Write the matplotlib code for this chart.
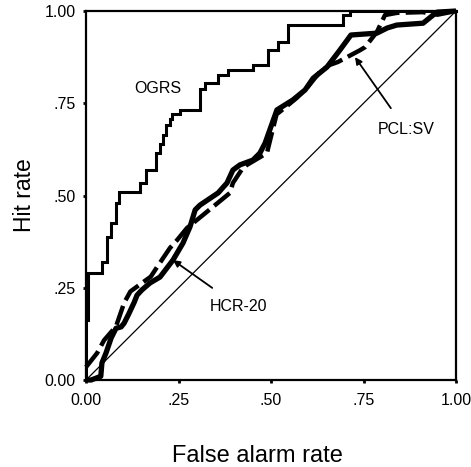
import matplotlib
matplotlib.use("Agg")
import matplotlib.pyplot as plt

# ---- data ----
ogrs_x = [0, 0, 0.005, 0.005, 0.043, 0.043, 0.057, 0.057, 0.068, 0.068, 0.081, 0.081,
          0.089, 0.089, 0.146, 0.146, 0.162, 0.162, 0.189, 0.189, 0.200, 0.200, 0.208, 0.208,
          0.216, 0.216, 0.227, 0.227, 0.232, 0.232, 0.254, 0.254, 0.308, 0.308, 0.322, 0.322,
          0.357, 0.357, 0.384, 0.384, 0.451, 0.451, 0.492, 0.492, 0.519, 0.519, 0.546, 0.546,
          0.695, 0.695, 0.714, 0.714, 1.0]
ogrs_y = [0, 0.163, 0.163, 0.290, 0.290, 0.320, 0.320, 0.388, 0.388, 0.425, 0.425, 0.480,
          0.480, 0.510, 0.510, 0.534, 0.534, 0.569, 0.569, 0.615, 0.615, 0.640, 0.640, 0.665,
          0.665, 0.690, 0.690, 0.708, 0.708, 0.720, 0.720, 0.732, 0.732, 0.789, 0.789, 0.805,
          0.805, 0.827, 0.827, 0.840, 0.840, 0.854, 0.854, 0.894, 0.894, 0.916, 0.916, 0.962,
          0.962, 0.989, 0.989, 1.0, 1.0]

hcr_x = [0, 0.014, 0.04, 0.043, 0.054, 0.068, 0.081, 0.095, 0.103, 0.116, 0.13, 0.138,
         0.151, 0.173, 0.2, 0.235, 0.262, 0.281, 0.295, 0.308, 0.357, 0.381, 0.397, 0.416,
         0.451, 0.47, 0.484, 0.516, 0.559, 0.592, 0.614, 0.651, 0.686, 0.716, 0.786, 0.814,
         0.84, 0.911, 0.938, 0.949, 1.0]
hcr_y = [0, 0.0, 0.01, 0.046, 0.073, 0.114, 0.14, 0.144, 0.154, 0.18, 0.21, 0.23,
         0.244, 0.263, 0.279, 0.325, 0.371, 0.415, 0.461, 0.474, 0.507, 0.534, 0.569, 0.583,
         0.596, 0.615, 0.642, 0.732, 0.759, 0.786, 0.818, 0.848, 0.894, 0.935, 0.94, 0.954,
         0.962, 0.967, 0.989, 0.997, 1.0]

pcl_x = [0, 0.03, 0.049, 0.068, 0.081, 0.103, 0.12, 0.15, 0.175, 0.192, 0.227, 0.246,
         0.273, 0.316, 0.389, 0.397, 0.424, 0.435, 0.489, 0.50, 0.515, 0.54, 0.57, 0.60,
         0.632, 0.659, 0.681, 0.741, 0.754, 0.786, 0.808, 0.84, 0.91, 0.95, 1.0]
pcl_y = [0.035, 0.073, 0.108, 0.13, 0.145, 0.209, 0.24, 0.262, 0.28, 0.306, 0.358, 0.379,
         0.412, 0.447, 0.507, 0.534, 0.575, 0.583, 0.615, 0.66, 0.72, 0.74, 0.765, 0.795,
         0.835, 0.854, 0.862, 0.894, 0.902, 0.943, 0.989, 0.995, 0.997, 0.99, 1.0]

ticks = [0, 0.25, 0.5, 0.75, 1.0]
tick_labels = ["0.00", ".25", ".50", ".75", "1.00"]

plt.rcParams['font.family'] = ['Liberation Sans', 'DejaVu Sans']

fig = plt.figure(figsize=(4.71, 4.67), dpi=100)
ax = fig.add_axes([0.1826, 0.1863, 0.7856, 0.7901])

ax.plot([0, 1], [0, 1], color='black', lw=0.9)
ax.plot(ogrs_x, ogrs_y, color='black', lw=2.2, solid_joinstyle='miter', clip_on=False)
ax.plot(hcr_x, hcr_y, color='black', lw=3.8, solid_capstyle='butt', clip_on=False)
ax.plot(pcl_x, pcl_y, color='black', lw=3.2, dashes=(4.5, 1.4), clip_on=False)

ax.set_xlim(0, 1)
ax.set_ylim(0, 1)
ax.set_xticks(ticks)
ax.set_xticklabels(tick_labels)
ax.set_yticks(ticks)
ax.set_yticklabels(tick_labels)
ax.tick_params(direction='out', length=2.5, width=2, labelsize=11.5)
ax.tick_params(axis='x', pad=7)
ax.tick_params(axis='y', pad=5)
for s in ax.spines.values():
    s.set_linewidth(1.6)

ax.set_xlabel("False alarm rate", fontsize=17)
ax.xaxis.set_label_coords(0.462, -0.175)
ax.set_ylabel("Hit rate", fontsize=16.5, labelpad=6)

ax.text(0.195, 0.789, "OGRS", fontsize=11.5, ha='center', va='center')
ax.annotate("PCL:SV", xy=(0.727, 0.875), xytext=(0.865, 0.678), fontsize=11.5,
            ha='center', va='center',
            arrowprops=dict(arrowstyle='-|>', color='black', lw=1.3, mutation_scale=10,
                            shrinkA=10, shrinkB=0))
ax.annotate("HCR-20", xy=(0.235, 0.325), xytext=(0.411, 0.2), fontsize=11.5,
            ha='center', va='center',
            arrowprops=dict(arrowstyle='-|>', color='black', lw=1.3, mutation_scale=10,
                            shrinkA=10, shrinkB=0))

fig.savefig("out.png", dpi=100)
